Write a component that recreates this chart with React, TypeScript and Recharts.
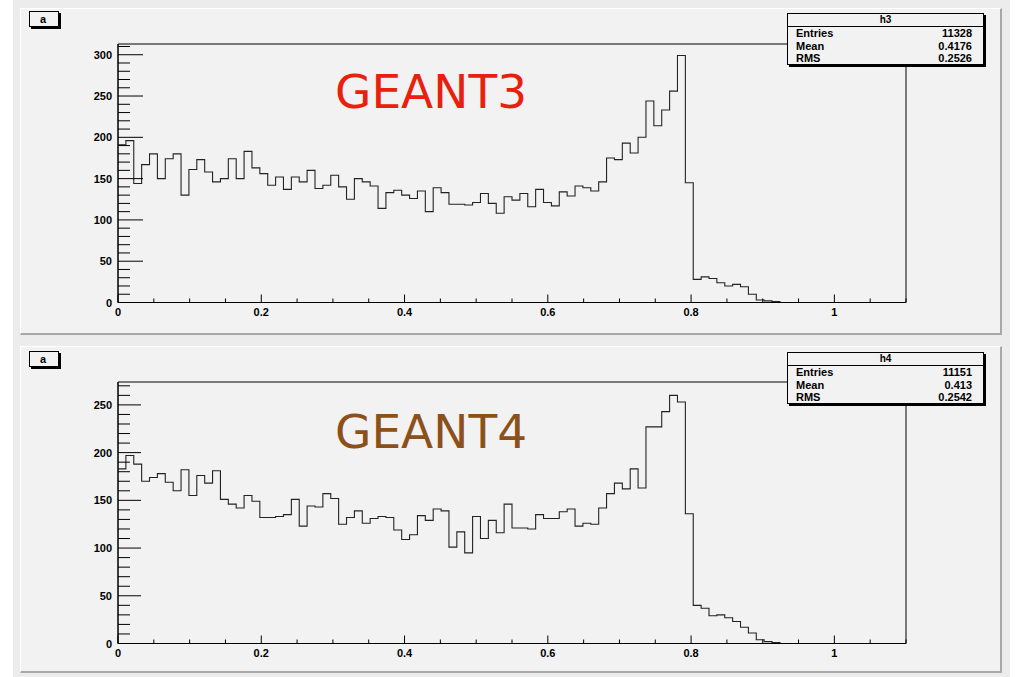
import React from 'react';
import { ComposedChart, Line, XAxis, YAxis, ReferenceArea } from 'recharts';

const BIN_WIDTH = 0.011;
const X_MAX = 1.1;

const g3Counts = [
  191, 196, 144, 167, 180, 150, 174, 180, 130, 161,
  173, 158, 146, 150, 174, 150, 183, 163, 156, 142,
  152, 137, 152, 146, 160, 138, 142, 154, 140, 125,
  150, 146, 141, 114, 133, 136, 130, 126, 135, 110,
  139, 133, 119, 119, 118, 121, 132, 120, 108, 128,
  124, 132, 116, 137, 121, 117, 134, 129, 141, 139,
  135, 146, 175, 173, 193, 181, 200, 244, 214, 233,
  256, 299, 145, 28, 31, 29, 24, 20, 22, 19,
  10, 3, 2, 1, 0, 0, 0, 0, 0, 0,
  0, 0, 0, 0, 0, 0, 0, 0, 0, 0,
];

const g4Counts = [
  183, 197, 188, 170, 174, 178, 169, 160, 182, 155,
  176, 168, 181, 151, 146, 142, 155, 149, 132, 132,
  133, 135, 151, 123, 144, 143, 157, 152, 125, 132,
  139, 126, 131, 133, 132, 119, 109, 114, 134, 129,
  141, 139, 101, 117, 95, 133, 110, 129, 116, 146,
  121, 121, 120, 135, 131, 131, 138, 141, 123, 126,
  125, 142, 157, 168, 162, 183, 163, 227, 227, 243,
  260, 253, 136, 40, 37, 29, 30, 27, 23, 17,
  11, 4, 2, 1, 0, 0, 0, 0, 0, 0,
  0, 0, 0, 0, 0, 0, 0, 0, 0, 0,
];

const xTicks = [0, 0.05, 0.1, 0.15, 0.2, 0.25, 0.3, 0.35, 0.4, 0.45, 0.5, 0.55, 0.6, 0.65, 0.7, 0.75, 0.8, 0.85, 0.9, 0.95, 1, 1.05, 1.1];
const xMajorTicks = [0, 0.2, 0.4, 0.6, 0.8, 1];
const xTickLabels = ['0', '0.2', '0.4', '0.6', '0.8', '1'];

const g3YTicks = [0, 10, 20, 30, 40, 50, 60, 70, 80, 90, 100, 110, 120, 130, 140, 150, 160, 170, 180, 190, 200, 210, 220, 230, 240, 250, 260, 270, 280, 290, 300, 310];
const g4YTicks = [0, 10, 20, 30, 40, 50, 60, 70, 80, 90, 100, 110, 120, 130, 140, 150, 160, 170, 180, 190, 200, 210, 220, 230, 240, 250, 260, 270];
const yMajorTicks = [0, 50, 100, 150, 200, 250, 300];

const statLabels = ['Entries', 'Mean', 'RMS'];
const g3Stats = ['11328', '0.4176', '0.2526'];
const g4Stats = ['11151', '0.413', '0.2542'];

const LABEL_FONT = '"Liberation Sans", Arial, Helvetica, sans-serif';

function toSteps(counts: number[]) {
  const pts = counts.map((c, i) => ({ x: Math.round(i * BIN_WIDTH * 10000) / 10000, y: c }));
  pts.push({ x: X_MAX, y: counts[counts.length - 1] });
  return pts;
}

function isXMajor(v: number) {
  return xMajorTicks.some((m) => Math.abs(m - v) < 1e-6);
}

function XTick(props: any) {
  const { x, y, payload } = props;
  const v = payload.value;
  const major = isXMajor(v);
  const idx = xMajorTicks.findIndex((m) => Math.abs(m - v) < 1e-6);
  return (
    <g>
      <line x1={x} x2={x} y1={y} y2={y - (major ? 8 : 4)} stroke="#000" strokeWidth={1} />
      {major && (
        <text x={x} y={y + 13} textAnchor="middle" fontFamily={LABEL_FONT} fontWeight={700} fontSize={11} fill="#000">
          {xTickLabels[idx]}
        </text>
      )}
    </g>
  );
}

function makeYTick(majorLen: number, minorLen: number) {
  return (props: any) => {
    const { x, y, payload } = props;
    const v = payload.value;
    const major = yMajorTicks.includes(v);
    return (
      <g>
        <line x1={x} x2={x + (major ? majorLen : minorLen)} y1={y} y2={y} stroke="#000" strokeWidth={1} />
        {major && (
          <text x={x - 6} y={y + 4} textAnchor="end" fontFamily={LABEL_FONT} fontWeight={700} fontSize={11} fill="#000">
            {v}
          </text>
        )}
      </g>
    );
  };
}

function HistPanel(props: {
  counts: number[];
  yMax: number;
  yTicks: number[];
  top: number;
  height: number;
  marginTop: number;
  marginBottom: number;
  majorLen: number;
  minorLen: number;
}) {
  const data = toSteps(props.counts);
  return (
    <div style={{ position: 'absolute', left: 0, top: props.top, width: 1015, height: props.height }}>
      <ComposedChart
        width={1015}
        height={props.height}
        data={data}
        margin={{ top: props.marginTop, right: 109, bottom: props.marginBottom, left: 78 }}
      >
        <XAxis
          dataKey="x"
          type="number"
          domain={[0, X_MAX]}
          ticks={xTicks}
          interval={0}
          tickSize={0}
          tickMargin={0}
          tickLine={false}
          axisLine={{ stroke: '#000' }}
          tick={(p: any) => <XTick {...p} />}
          height={20}
          allowDataOverflow
        />
        <YAxis
          type="number"
          domain={[0, props.yMax]}
          ticks={props.yTicks}
          interval={0}
          tickSize={0}
          tickMargin={0}
          tickLine={false}
          axisLine={{ stroke: '#000' }}
          tick={makeYTick(props.majorLen, props.minorLen)}
          width={40}
          allowDataOverflow
        />
        <ReferenceArea x1={0} x2={X_MAX} y1={0} y2={props.yMax} fill="none" stroke="#000" strokeWidth={1} ifOverflow="visible" />
        <Line
          dataKey="y"
          type="stepAfter"
          stroke="#222"
          strokeWidth={1.1}
          dot={false}
          activeDot={false}
          isAnimationActive={false}
        />
      </ComposedChart>
    </div>
  );
}

function StatsBox(props: { top: number; name: string; values: string[] }) {
  return (
    <div
      style={{
        position: 'absolute',
        left: 787,
        top: props.top,
        width: 197,
        height: 52,
        boxSizing: 'border-box',
        background: '#f2f2f2',
        border: '1px solid #000',
        boxShadow: '2px 2px 0 #000',
        fontFamily: LABEL_FONT,
        fontWeight: 700,
        fontSize: 11,
        color: '#000',
      }}
    >
      <div style={{ height: 12, lineHeight: '12px', borderBottom: '1px solid #000', textAlign: 'center', fontSize: 10 }}>
        {props.name}
      </div>
      {statLabels.map((lab, i) => (
        <div key={lab} style={{ height: 12.6, lineHeight: '12.6px', display: 'flex', justifyContent: 'space-between', padding: '0 11px 0 8px' }}>
          <span>{lab}</span>
          <span>{props.values[i]}</span>
        </div>
      ))}
    </div>
  );
}

function TitleBox(props: { top: number; text: string }) {
  return (
    <div
      style={{
        position: 'absolute',
        left: 29,
        top: props.top,
        width: 30,
        height: 16,
        boxSizing: 'border-box',
        background: '#f2f2f2',
        border: '1px solid #000',
        boxShadow: '2px 2px 0 #000',
        fontFamily: LABEL_FONT,
        fontWeight: 700,
        fontSize: 11,
        lineHeight: '14px',
        paddingLeft: 10,
      }}
    >
      {props.text}
    </div>
  );
}

function Pad(props: { top: number; height: number }) {
  return (
    <div
      style={{
        position: 'absolute',
        left: 20,
        top: props.top,
        width: 982,
        height: props.height,
        boxSizing: 'border-box',
        background: '#f2f2f2',
        borderTop: '1px solid #fff',
        borderLeft: '1px solid #fff',
        borderRight: '2px solid #a8a8a8',
        borderBottom: '2px solid #a8a8a8',
      }}
    />
  );
}

export default function App() {
  return (
    <div style={{ position: 'absolute', left: 0, top: 0, width: 1015, height: 677, background: '#fff', overflow: 'hidden' }}>
      <div style={{ position: 'absolute', left: 13, top: 0, width: 997, height: 677, background: '#ececec' }} />
      <Pad top={8} height={327} />
      <Pad top={346} height={327} />
      <HistPanel counts={g3Counts} yMax={313} yTicks={g3YTicks} top={0} height={340} marginTop={44} marginBottom={17.5} majorLen={25} minorLen={12} />
      <HistPanel counts={g4Counts} yMax={274} yTicks={g4YTicks} top={340} height={337} marginTop={42} marginBottom={13.5} majorLen={23} minorLen={12} />
      <div style={{ position: 'absolute', left: 335, top: 109 - 45, fontFamily: '"DejaVu Sans", sans-serif', fontSize: 47, lineHeight: '55px', color: '#e8200c', whiteSpace: 'nowrap' }}>
        GEANT3
      </div>
      <div style={{ position: 'absolute', left: 335, top: 449 - 45, fontFamily: '"DejaVu Sans", sans-serif', fontSize: 47, lineHeight: '55px', color: '#8c5019', whiteSpace: 'nowrap' }}>
        GEANT4
      </div>
      <StatsBox top={13} name="h3" values={g3Stats} />
      <StatsBox top={352} name="h4" values={g4Stats} />
      <TitleBox top={11} text="a" />
      <TitleBox top={351} text="a" />
    </div>
  );
}
